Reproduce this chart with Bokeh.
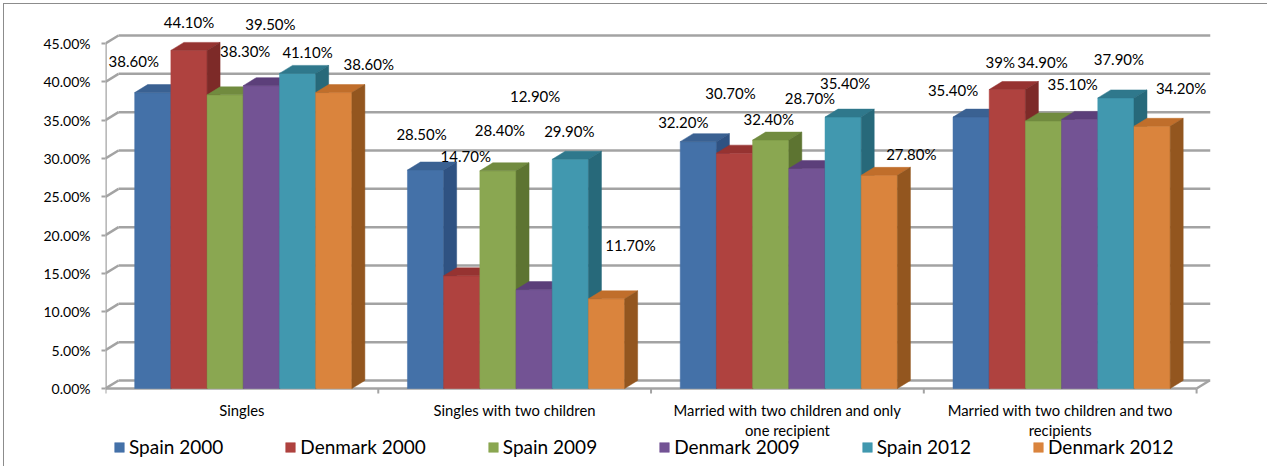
from bokeh.plotting import figure
from bokeh.models import (ColumnDataSource, Range1d, FixedTicker, PrintfTickFormatter,
                          Legend, LegendItem, InlineStyleSheet)
from bokeh.core.properties import value
from bokeh.embed import file_html
from bokeh.resources import INLINE

# ---------------- data ----------------
categories = ["Singles", "Singles with two children",
              "Married with two children and only\none recipient",
              "Married with two children and two\nrecipients"]
series = ["Spain 2000", "Denmark 2000", "Spain 2009", "Denmark 2009", "Spain 2012", "Denmark 2012"]
spain_2000 = [38.6, 28.5, 32.2, 35.4]
denmark_2000 = [44.1, 14.7, 30.7, 39.0]
spain_2009 = [38.3, 28.4, 32.4, 34.9]
denmark_2009 = [39.5, 12.9, 28.7, 35.1]
spain_2012 = [41.1, 29.9, 35.4, 37.9]
denmark_2012 = [38.6, 11.7, 27.8, 34.2]
values = [spain_2000, denmark_2000, spain_2009, denmark_2009, spain_2012, denmark_2012]
value_labels = [
    ["38.60%", "28.50%", "32.20%", "35.40%"],
    ["44.10%", "14.70%", "30.70%", "39%"],
    ["38.30%", "28.40%", "32.40%", "34.90%"],
    ["39.50%", "12.90%", "28.70%", "35.10%"],
    ["41.10%", "29.90%", "35.40%", "37.90%"],
    ["38.60%", "11.70%", "27.80%", "34.20%"],
]
y_ticks = [0, 5, 10, 15, 20, 25, 30, 35, 40, 45]

# ---------------- style ----------------
FONT = "Lato"
front_colors = ["#4471A8", "#AF423F", "#8AA751", "#735394", "#4198AF", "#DA843D"]
top_colors = ["#3A6192", "#963331", "#718B3F", "#5C3F7A", "#2F788C", "#C06E2B"]
side_colors = ["#2F5282", "#7D2A28", "#5D7431", "#4C3466", "#27697A", "#93561F"]
GRID = "#A3A3A3"

W, H = 1267, 466
LEFT_PX, FRAME_W = 105, 1105
ZERO_PX = 388               # screen row of the 0 line
PX_PER_PCT = 345 / 45
X_END = 4.051
PX_X = FRAME_W / X_END
Y_END = ZERO_PX / PX_PER_PCT
Y_START = -(H - ZERO_PX) / PX_PER_PCT
DX = 13 / PX_X              # 3D depth offset (data units)
DY = 8 / PX_PER_PCT
TICK = 5 / PX_PER_PCT
BAR_W = 0.1327
BAR_OFF = 0.107

# label offsets in screen pixels, relative to front-top centre of each bar
label_dx = [[-19, -4, -15, -18], [0, 4, -4, -7], [20, 2, -2, -1],
            [9, 1, 3, -7], [10, -1, 2, 3], [35, 24, 32, 29]]
label_dy = [[-32, -36, -20, -27], [-28, -120, -60, -28], [-44, -41, -21, -59],
            [-62, -194, -70, -35], [-21, -28, -34, -39], [-29, -54, -21, -38]]

frame_css = InlineStyleSheet(css="""
:host::after { content: ""; position: absolute; left: 3px; top: 3px; right: 0; bottom: 0;
  border-top: 1px solid #8C8C8C; border-left: 1px solid #8C8C8C; pointer-events: none; }
""")

p = figure(frame_width=FRAME_W, frame_height=H, output_backend="svg",
           toolbar_location=None, x_range=Range1d(0, X_END), y_range=Range1d(Y_START, Y_END),
           min_border_left=LEFT_PX, min_border_right=W - LEFT_PX - FRAME_W,
           min_border_top=0, min_border_bottom=0, stylesheets=[frame_css])
p.outline_line_color = None
p.xgrid.visible = False
p.ygrid.visible = False
p.xaxis.visible = False
p.background_fill_color = "white"

ncat = len(categories)

# back wall gridlines and left wall diagonals
gx0, gy0, gx1, gy1 = [], [], [], []
for v in y_ticks:
    gx0 += [0, DX]; gy0 += [v, v + DY]
    gx1 += [DX, X_END]; gy1 += [v + DY, v + DY]
# floor front edge and right diagonal, left axis line
gx0 += [0, ncat, 0]; gy0 += [0, 0, 0]
gx1 += [ncat, ncat + DX, 0]; gy1 += [0, DY, y_ticks[-1]]
p.segment(gx0, gy0, gx1, gy1, line_color=GRID, line_width=2.5)
# category boundary ticks
bounds = list(range(ncat + 1))
p.segment(bounds, [0] * len(bounds), bounds, [-TICK] * len(bounds), line_color=GRID, line_width=2)

legend_items = []
for j, vals in enumerate(values):
    left = [c + BAR_OFF + j * BAR_W for c in range(ncat)]
    right = [l + BAR_W for l in left]
    src = ColumnDataSource(dict(left=left, right=right, top=vals, bottom=[0] * ncat))
    r = p.quad(left="left", right="right", top="top", bottom="bottom", source=src,
               fill_color=front_colors[j], line_color=front_colors[j], line_width=0.5)
    tops_x = [[l, rr, rr + DX, l + DX] for l, rr in zip(left, right)]
    tops_y = [[v, v, v + DY, v + DY] for v in vals]
    p.patches(tops_x, tops_y, fill_color=top_colors[j], line_color=top_colors[j], line_width=0.5)
    side_x = [[rr, rr, rr + DX, rr + DX] for rr in right]
    side_y = [[0, v, v + DY, DY] for v in vals]
    p.patches(side_x, side_y, fill_color=side_colors[j], line_color=side_colors[j], line_width=0.5)
    legend_items.append(LegendItem(label=series[j], renderers=[r]))

# data labels
for j, vals in enumerate(values):
    cx = [c + BAR_OFF + j * BAR_W + BAR_W / 2 for c in range(ncat)]
    lsrc = ColumnDataSource(dict(x=cx, y=vals, t=value_labels[j], xo=label_dx[j], yo=label_dy[j]))
    p.text(x="x", y="y", text="t", x_offset="xo", y_offset="yo", source=lsrc,
           text_font=value(FONT), text_font_size="15px", text_color="#000000",
           text_align="center", text_baseline="middle")

# category labels under the floor
csrc = ColumnDataSource(dict(x=[c + 0.5 for c in range(ncat)], y=[0] * ncat, t=categories))
p.text(x="x", y="y", text="t", source=csrc, y_offset=12, text_font=value(FONT),
       text_font_size="14.8px", text_color="#000000", text_align="center",
       text_baseline="top", text_line_height=1.15)

# y axis
ya = p.yaxis[0]
ya.ticker = FixedTicker(ticks=y_ticks)
ya.formatter = PrintfTickFormatter(format="%.2f%%")
ya.axis_line_color = None
ya.major_tick_line_color = GRID
ya.major_tick_line_width = 2
ya.major_tick_out = 4
ya.major_tick_in = 0
ya.minor_tick_line_color = None
ya.major_label_standoff = 11
ya.major_label_text_font = FONT
ya.major_label_text_font_size = "14px"
ya.major_label_text_color = "#000000"

legend = Legend(items=legend_items, orientation="horizontal", location=(8, 8),
                glyph_width=12, glyph_height=12, label_height=20, label_standoff=4,
                spacing=61, padding=0, margin=0, border_line_color=None,
                background_fill_alpha=0, label_text_font=FONT, label_text_font_size="19px",
                label_text_color="#000000")
p.add_layout(legend, "center")

open("out.html", "w").write(file_html(p, INLINE))
